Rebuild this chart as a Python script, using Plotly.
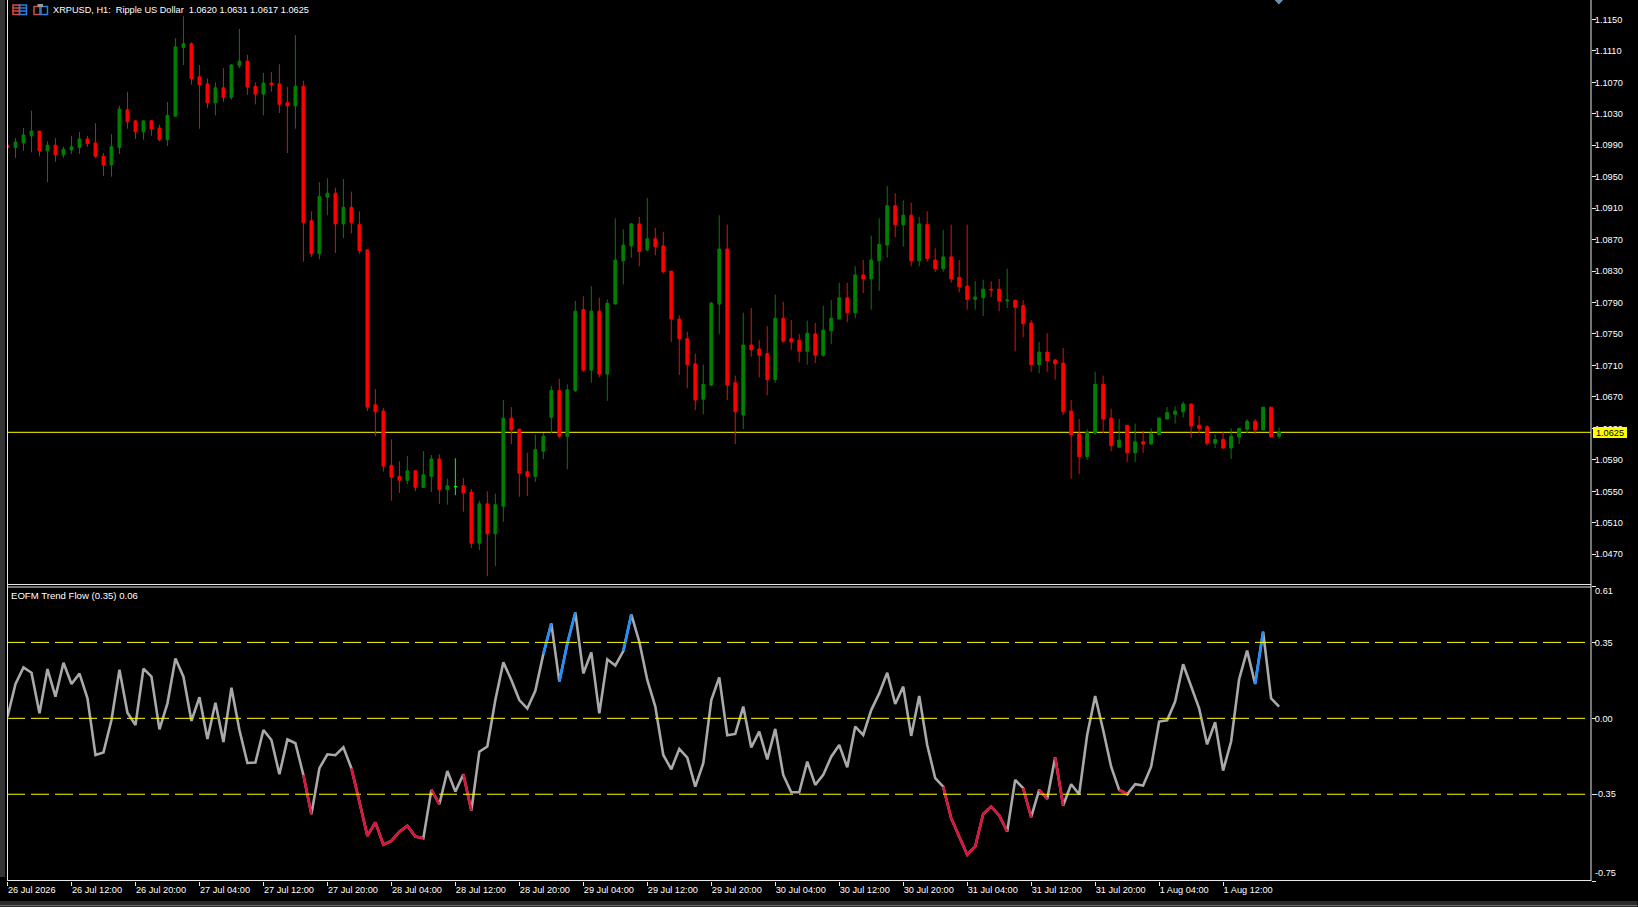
import numpy as np
import plotly.graph_objects as go

# ---------- data ----------
open_prices = [1.0990,1.0987,1.0993,1.1002,1.1008,1.0983,1.0990,1.0978,1.0984,1.0987,
1.0998,1.0993,1.0976,1.0965,1.0987,1.1035,1.1021,1.1007,1.1021,1.1012,
1.0997,1.1027,1.1114,1.1119,1.1077,1.1068,1.1044,1.1063,1.1051,1.1091,
1.1097,1.1065,1.1055,1.1069,1.1068,1.1044,1.1040,1.1065,1.0894,1.0852,
1.0924,1.0929,1.0890,1.0911,1.0889,1.0857,1.0660,1.0652,1.0583,1.0569,
1.0564,1.0576,1.0555,1.0569,1.0591,1.0552,1.0556,1.0557,1.0549,1.0484,
1.0534,1.0496,1.0531,1.0643,1.0629,1.0575,1.0569,1.0601,1.0644,1.0678,
1.0620,1.0678,1.0781,1.0704,1.0779,1.0699,1.0788,1.0843,1.0862,1.0890,
1.0857,1.0871,1.0862,1.0830,1.0769,1.0744,1.0712,1.0667,1.0685,1.0788,
1.0858,1.0688,1.0647,1.0736,1.0731,1.0725,1.0692,1.0770,1.0744,1.0742,
1.0728,1.0750,1.0723,1.0754,1.0769,1.0796,1.0777,1.0825,1.0820,1.0843,
1.0863,1.0913,1.0889,1.0901,1.0843,1.0889,1.0844,1.0833,1.0848,1.0822,
1.0811,1.0794,1.0796,1.0807,1.0807,1.0792,1.0793,1.0786,1.0764,1.0711,
1.0727,1.0717,1.0713,1.0652,1.0623,1.0594,1.0624,1.0686,1.0643,1.0606,
1.0634,1.0599,1.0613,1.0610,1.0622,1.0642,1.0648,1.0651,1.0661,1.0634,
1.0632,1.0611,1.0616,1.0605,1.0619,1.0629,1.0639,1.0628,1.0657,1.0620]
high_prices = [1.0990,1.0999,1.1012,1.1034,1.1008,1.0995,1.0999,1.0988,1.1002,1.1007,
1.1002,1.1018,1.0980,1.1004,1.1040,1.1058,1.1022,1.1021,1.1022,1.1016,
1.1045,1.1126,1.1154,1.1121,1.1092,1.1075,1.1070,1.1088,1.1093,1.1138,
1.1105,1.1070,1.1082,1.1083,1.1093,1.1064,1.1130,1.1072,1.0906,1.0943,
1.0948,1.0936,1.0947,1.0931,1.0906,1.0857,1.0680,1.0656,1.0616,1.0588,
1.0595,1.0577,1.0601,1.0596,1.0597,1.0566,1.0592,1.0567,1.0553,1.0538,
1.0550,1.0547,1.0666,1.0657,1.0629,1.0599,1.0622,1.0624,1.0684,1.0693,
1.0686,1.0792,1.0798,1.0811,1.0796,1.0794,1.0897,1.0883,1.0891,1.0899,
1.0923,1.0885,1.0880,1.0830,1.0774,1.0753,1.0725,1.0711,1.0791,1.0901,
1.0889,1.0697,1.0777,1.0783,1.0742,1.0760,1.0800,1.0791,1.0768,1.0750,
1.0767,1.0764,1.0786,1.0793,1.0815,1.0815,1.0836,1.0844,1.0875,1.0897,
1.0938,1.0929,1.0920,1.0917,1.0899,1.0906,1.0859,1.0882,1.0889,1.0844,
1.0889,1.0817,1.0819,1.0817,1.0820,1.0833,1.0793,1.0793,1.0768,1.0740,
1.0751,1.0718,1.0732,1.0666,1.0642,1.0629,1.0702,1.0697,1.0655,1.0642,
1.0634,1.0636,1.0627,1.0630,1.0644,1.0657,1.0658,1.0664,1.0661,1.0646,
1.0634,1.0622,1.0625,1.0630,1.0630,1.0642,1.0642,1.0657,1.0657,1.0631]
low_prices = [1.0987,1.0974,1.0983,1.0981,1.0976,1.0943,1.0969,1.0974,1.0979,1.0979,
1.0988,1.0974,1.0951,1.0950,1.0979,1.1011,1.0998,1.0997,1.1002,1.0995,
1.0989,1.1027,1.1092,1.1067,1.1011,1.1037,1.1028,1.1045,1.1048,1.1088,
1.1054,1.1042,1.1028,1.1058,1.1031,1.0980,1.1011,1.0842,1.0848,1.0845,
1.0901,1.0853,1.0872,1.0878,1.0852,1.0652,1.0620,1.0575,1.0538,1.0548,
1.0559,1.0550,1.0554,1.0549,1.0534,1.0533,1.0545,1.0524,1.0478,1.0475,
1.0442,1.0455,1.0511,1.0610,1.0543,1.0544,1.0562,1.0591,1.0624,1.0618,
1.0578,1.0676,1.0702,1.0688,1.0695,1.0665,1.0788,1.0813,1.0847,1.0836,
1.0855,1.0850,1.0827,1.0740,1.0698,1.0681,1.0653,1.0648,1.0684,1.0750,
1.0666,1.0610,1.0629,1.0721,1.0695,1.0672,1.0688,1.0739,1.0730,1.0714,
1.0711,1.0713,1.0721,1.0737,1.0769,1.0765,1.0770,1.0802,1.0781,1.0805,
1.0847,1.0873,1.0861,1.0836,1.0836,1.0842,1.0829,1.0829,1.0815,1.0803,
1.0781,1.0781,1.0773,1.0797,1.0779,1.0783,1.0728,1.0746,1.0702,1.0700,
1.0702,1.0692,1.0647,1.0566,1.0572,1.0590,1.0622,1.0624,1.0601,1.0606,
1.0587,1.0587,1.0599,1.0610,1.0622,1.0641,1.0636,1.0644,1.0618,1.0624,
1.0608,1.0605,1.0604,1.0591,1.0610,1.0624,1.0623,1.0628,1.0619,1.0617]
close_prices = [1.0987,1.0994,1.1003,1.1008,1.0983,1.0990,1.0978,1.0985,1.0988,1.0998,
1.0992,1.0976,1.0965,1.0988,1.1036,1.1020,1.1007,1.1021,1.1011,1.0997,
1.1028,1.1115,1.1119,1.1075,1.1067,1.1044,1.1063,1.1051,1.1092,1.1097,
1.1064,1.1055,1.1069,1.1067,1.1042,1.1040,1.1065,1.0892,1.0852,1.0925,
1.0929,1.0890,1.0911,1.0892,1.0856,1.0657,1.0651,1.0582,1.0568,1.0564,
1.0576,1.0555,1.0571,1.0591,1.0552,1.0557,1.0556,1.0548,1.0484,1.0534,
1.0496,1.0533,1.0643,1.0628,1.0573,1.0569,1.0603,1.0620,1.0678,1.0620,
1.0679,1.0779,1.0704,1.0779,1.0699,1.0789,1.0844,1.0863,1.0890,1.0855,
1.0871,1.0861,1.0829,1.0769,1.0744,1.0711,1.0666,1.0686,1.0789,1.0858,
1.0685,1.0651,1.0736,1.0730,1.0723,1.0692,1.0770,1.0741,1.0740,1.0728,
1.0751,1.0723,1.0755,1.0770,1.0796,1.0777,1.0825,1.0820,1.0844,1.0864,
1.0913,1.0889,1.0901,1.0843,1.0890,1.0846,1.0833,1.0848,1.0820,1.0810,
1.0794,1.0797,1.0807,1.0806,1.0792,1.0793,1.0784,1.0763,1.0711,1.0727,
1.0716,1.0712,1.0651,1.0622,1.0594,1.0625,1.0686,1.0642,1.0608,1.0615,
1.0599,1.0613,1.0610,1.0623,1.0643,1.0650,1.0652,1.0661,1.0633,1.0630,
1.0611,1.0616,1.0605,1.0620,1.0630,1.0639,1.0628,1.0657,1.0619,1.0625]
eofm_values = [0.008,0.158,0.235,0.210,0.023,0.227,0.100,0.256,0.158,0.206,
0.092,-0.169,-0.157,-0.008,0.224,0.026,-0.031,0.229,0.192,-0.051,
0.069,0.276,0.192,-0.012,0.097,-0.095,0.072,-0.109,0.141,-0.054,
-0.206,-0.204,-0.054,-0.100,-0.258,-0.097,-0.115,-0.261,-0.442,-0.230,
-0.166,-0.170,-0.134,-0.230,-0.384,-0.542,-0.480,-0.583,-0.565,-0.523,
-0.496,-0.545,-0.553,-0.330,-0.396,-0.243,-0.338,-0.258,-0.425,-0.154,
-0.130,0.084,0.258,0.177,0.084,0.045,0.127,0.296,0.438,0.169,
0.345,0.488,0.207,0.304,0.023,0.272,0.243,0.310,0.479,0.353,
0.177,0.054,-0.169,-0.235,-0.141,-0.181,-0.315,-0.207,0.084,0.189,
-0.078,-0.072,0.054,-0.134,-0.061,-0.189,-0.049,-0.261,-0.341,-0.341,
-0.200,-0.307,-0.261,-0.177,-0.123,-0.226,-0.038,-0.077,0.038,0.115,
0.210,0.066,0.146,-0.081,0.103,-0.123,-0.276,-0.315,-0.461,-0.545,
-0.629,-0.591,-0.441,-0.407,-0.448,-0.522,-0.284,-0.322,-0.456,-0.330,
-0.372,-0.180,-0.402,-0.304,-0.350,-0.077,0.103,-0.054,-0.223,-0.330,
-0.350,-0.304,-0.310,-0.223,-0.015,-0.009,0.077,0.249,0.146,0.046,
-0.120,-0.018,-0.241,-0.107,0.180,0.312,0.158,0.399,0.092,0.054]
red_runs = [(37,38),(43,52),(53,54),(57,58),(117,125),(127,128),(129,130),(131,132),(139,140)]
blue_runs = [(67,68),(69,71),(77,78),(156,157)]
time_labels = ["26 Jul 2026","26 Jul 12:00","26 Jul 20:00","27 Jul 04:00","27 Jul 12:00",
"27 Jul 20:00","28 Jul 04:00","28 Jul 12:00","28 Jul 20:00","29 Jul 04:00",
"29 Jul 12:00","29 Jul 20:00","30 Jul 04:00","30 Jul 12:00","30 Jul 20:00",
"31 Jul 04:00","31 Jul 12:00","31 Jul 20:00","1 Aug 04:00","1 Aug 12:00"]
price_ticks = [1.0470,1.0510,1.0550,1.0590,1.0630,1.0670,1.0710,1.0750,1.0790,1.0830,1.0870,
1.0910,1.0950,1.0990,1.1030,1.1070,1.1110,1.1150]
level_values = [0.35,0.0,-0.35]
indicator_ticks = [0.61,0.35,0.0,-0.35,-0.75]
last_price = 1.0625
header_text = "XRPUSD, H1:\u00a0 Ripple US Dollar\u00a0 1.0620 1.0631 1.0617 1.0625"
indicator_text = "EOFM Trend Flow (0.35) 0.06"

# ---------- layout geometry ----------
W, H = 1638, 907
L, R, B = 7.0, 1591.5, 881.0
X0, BAR = 7.5, 8.0
FONT = "Liberation Sans"
FS = 9.2
TXT = "#FFFFFF"
px = lambda v: (v - L) / (R - L)
py = lambda v: (B - v) / B

n = len(open_prices)
xs = np.arange(n)
O, Hi, Lo, C = map(np.array, (open_prices, high_prices, low_prices, close_prices))
doji = O == C

fig = go.Figure()
fig.add_trace(go.Candlestick(
    x=xs[~doji], open=O[~doji], high=Hi[~doji], low=Lo[~doji], close=C[~doji],
    increasing=dict(line=dict(color="#008000", width=1), fillcolor="#008000"),
    decreasing=dict(line=dict(color="#FF0000", width=1), fillcolor="#FF0000"),
    whiskerwidth=0, xaxis="x", yaxis="y", showlegend=False))
fig.add_trace(go.Candlestick(
    x=xs[doji], open=O[doji], high=Hi[doji], low=Lo[doji], close=C[doji],
    increasing=dict(line=dict(color="#00FF00", width=1), fillcolor="#00FF00"),
    decreasing=dict(line=dict(color="#00FF00", width=1), fillcolor="#00FF00"),
    whiskerwidth=0, xaxis="x", yaxis="y", showlegend=False))

vals = np.array(eofm_values)
fig.add_trace(go.Scatter(x=xs, y=vals, mode="lines", xaxis="x", yaxis="y2",
                         line=dict(color="#A9A9A9", width=2.6), showlegend=False))
for runs, color in ((red_runs, "#DC143C"), (blue_runs, "#1E90FF")):
    sx, sy = [], []
    for a, b in runs:
        sx += list(xs[a:b + 1]) + [None]
        sy += list(vals[a:b + 1]) + [None]
    fig.add_trace(go.Scatter(x=sx, y=sy, mode="lines", xaxis="x", yaxis="y2",
                             line=dict(color=color, width=2.6), showlegend=False))

shapes = []
def paper_rect(x0, y0, x1, y1, fill=None, line=None, lw=1):
    shapes.append(dict(type="rect", xref="paper", yref="paper", x0=px(x0), x1=px(x1), y0=py(y0), y1=py(y1),
                       fillcolor=fill or "rgba(0,0,0,0)", line=dict(color=line or "rgba(0,0,0,0)", width=lw if line else 0)))
def paper_line(x0, y0, x1, y1, color, lw=1):
    shapes.append(dict(type="line", xref="paper", yref="paper", x0=px(x0), x1=px(x1), y0=py(y0), y1=py(y1),
                       line=dict(color=color, width=lw)))

# price line beneath candles
shapes.append(dict(type="line", xref="paper", yref="y", x0=0, x1=1, y0=last_price, y1=last_price,
                   line=dict(color="#FFFF00", width=1), layer="below"))
for lv in level_values:
    shapes.append(dict(type="line", xref="paper", yref="y2", x0=0, x1=1, y0=lv, y1=lv,
                       line=dict(color="#FFFF00", width=1, dash="18px,6px")))
# window frame
paper_rect(0, 0, 5, 877, fill="#333333")
paper_line(7.5, 0, 7.5, 881, "#E8E8E8")
paper_line(R, 0, R, 881, "#E8E8E8")
paper_line(7.5, 584.5, R, 584.5, "#E8E8E8")
paper_line(7.5, 587, R, 587, "#E8E8E8")
paper_line(7.5, 880.5, R, 880.5, "#E8E8E8")
paper_rect(0, 901, 1638, 907, fill="#2B2B2B")
paper_line(0, 905.5, 1638, 905.5, "#6A6A6A")
# toolbar glyphs
for yy in (8, 11):
    paper_line(13, yy, 19.5, yy, "#E04A3F", 1.5)
    paper_line(19.5, yy, 26.5, yy, "#2A7FE0", 1.5)
paper_rect(13, 5, 19.5, 14.5, line="#E04A3F", lw=1.5)
paper_rect(19.5, 5, 26.5, 14.5, line="#2A7FE0", lw=1.5)
paper_rect(34, 6.5, 40, 14.5, line="#C9504A", lw=1.5)
paper_rect(41, 6.5, 47.5, 14.5, line="#2A7FE0", lw=1.5)
paper_rect(37.5, 4, 43, 7, fill="#9A9A9A")
# top-edge marker
shapes.append(dict(type="path", xref="paper", yref="paper",
                   path=f"M {px(1275)} {py(0)} L {px(1283.5)} {py(0)} L {px(1279.3)} {py(4.5)} Z",
                   fillcolor="#6F8FAF", line=dict(width=0)))

annotations = [
    dict(text=header_text, xref="paper", yref="paper", x=px(51.5), y=py(9.5), xanchor="left", yanchor="middle",
         showarrow=False, font=dict(family=FONT, size=FS, color=TXT)),
    dict(text=indicator_text, xref="paper", yref="paper", x=px(8.8), y=py(595.5), xanchor="left", yanchor="middle",
         showarrow=False, font=dict(family=FONT, size=9.6, color=TXT)),
    dict(text=f"{last_price:.4f}", xref="paper", yref="y", x=px(1594), y=last_price, xanchor="left", yanchor="middle",
         width=34, height=11, align="center", bgcolor="#FFFF00", borderpad=0, borderwidth=0, showarrow=False,
         font=dict(family=FONT, size=FS, color="#000000")),
    dict(text=f"{indicator_ticks[0]:.2f}", xref="paper", yref="y2", x=px(1594), y=indicator_ticks[0], yshift=-5,
         xanchor="left", yanchor="middle", showarrow=False, font=dict(family=FONT, size=FS, color=TXT)),
    dict(text=f"{indicator_ticks[-1]:.2f}", xref="paper", yref="y2", x=px(1594), y=indicator_ticks[-1], yshift=8,
         xanchor="left", yanchor="middle", showarrow=False, font=dict(family=FONT, size=FS, color=TXT)),
]

axis_font = dict(family=FONT, size=FS, color=TXT)
fig.update_layout(
    width=W, height=H, margin=dict(l=L, r=W - R, t=0, b=H - B, pad=0),
    paper_bgcolor="#000000", plot_bgcolor="#000000", showlegend=False, boxgap=0.5, boxmode="overlay",
    hovermode=False, shapes=shapes, annotations=annotations,
    font=dict(family=FONT, size=FS, color=TXT),
    xaxis=dict(domain=[0, 1], anchor="y2", range=[(L - X0) / BAR, (R - X0) / BAR],
               tickmode="array", tickvals=list(range(0, n, 8)), ticktext=time_labels,
               ticks="outside", ticklen=4, tickcolor="#E8E8E8", tickwidth=1, tickangle=0,
               ticklabelposition="outside right", tickfont=axis_font,
               showgrid=False, zeroline=False, showline=False, rangeslider=dict(visible=False)),
    yaxis=dict(domain=[py(584.5), 1], anchor="x", side="right",
               range=[1.0625 - (584.5 - 432.3) * 1.2715e-4, 1.0625 + 432.3 * 1.2715e-4],
               tickmode="array", tickvals=price_ticks, ticktext=[f"{t:.4f}" for t in price_ticks],
               ticks="outside", ticklen=4, tickcolor="#E8E8E8", tickwidth=1, tickfont=axis_font,
               ticklabelstandoff=-3,
               showgrid=False, zeroline=False, showline=False),
    yaxis2=dict(domain=[0, py(586)], anchor="x", side="right", range=[indicator_ticks[-1], indicator_ticks[0]],
                tickmode="array", tickvals=indicator_ticks,
                ticktext=["", "0.35", "0.00", "-0.35", ""],
                ticks="outside", ticklen=4, tickcolor="#E8E8E8", tickwidth=1, tickfont=axis_font,
                ticklabelstandoff=-3,
                showgrid=False, zeroline=False, showline=False),
)

fig.write_html("out.html", config={"displayModeBar": False},
               post_script="document.body.style.margin='0';document.documentElement.style.background='#000';")
